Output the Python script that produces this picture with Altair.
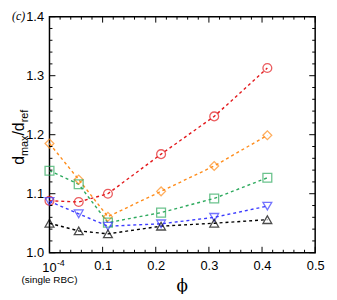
import altair as alt
import pandas as pd

phi = [0.0, 0.055, 0.11, 0.21, 0.31, 0.41]
series_names = ["s1", "s2", "s3", "s4", "s5"]
red_vals = [1.088, 1.086, 1.100, 1.167, 1.231, 1.313]
orange_vals = [1.185, 1.124, 1.061, 1.104, 1.147, 1.199]
green_vals = [1.139, 1.116, 1.051, 1.068, 1.092, 1.127]
blue_vals = [1.087, 1.066, 1.045, 1.049, 1.060, 1.079]
black_vals = [1.050, 1.037, 1.032, 1.045, 1.050, 1.056]
colors = ["#e3191c", "#ff8c1a", "#2eaa5e", "#3a3aff", "#000000"]
shapes = ["circle", "diamond", "square", "triangle-down", "triangle-up"]

x_major = [0.0, 0.1, 0.2, 0.3, 0.4, 0.5]
x_minor = [0.02, 0.04, 0.06, 0.08, 0.12, 0.14, 0.16, 0.18, 0.22, 0.24, 0.26, 0.28,
           0.32, 0.34, 0.36, 0.38, 0.42, 0.44, 0.46, 0.48]
y_major = [1.0, 1.1, 1.2, 1.3, 1.4]
y_minor = [1.02, 1.04, 1.06, 1.08, 1.12, 1.14, 1.16, 1.18, 1.22, 1.24, 1.26, 1.28,
           1.32, 1.34, 1.36, 1.38]

W, H = 269, 239

rows = []
for name, vals in zip(series_names, [red_vals, orange_vals, green_vals, blue_vals, black_vals]):
    for p, v in zip(phi, vals):
        rows.append({"series": name, "phi": p, "d": v})
df = pd.DataFrame(rows)

xs = alt.Scale(domain=[0, 0.5], nice=False, zero=False)
ys = alt.Scale(domain=[1.0, 1.4], nice=False, zero=False)
cs = alt.Scale(domain=series_names, range=colors)
ss = alt.Scale(domain=series_names, range=shapes)

base = alt.Chart(df)
lines = base.mark_line(strokeDash=[3, 3], strokeWidth=1.4).encode(
    x=alt.X("phi:Q", scale=xs,
            axis=alt.Axis(values=x_major, format=".1f",
                          labelExpr="datum.value < 0.01 ? '' : datum.label",
                          title=None, labelFontSize=13, labelPadding=7,
                          labelFont="Liberation Sans", labelColor="black",
                          labelFlush=False)),
    y=alt.Y("d:Q", scale=ys,
            axis=alt.Axis(values=y_major, format=".1f", title=None,
                          labelFontSize=13, labelPadding=6,
                          labelFont="Liberation Sans", labelColor="black",
                          labelFlush=False)),
    color=alt.Color("series:N", scale=cs, legend=None),
    detail="series:N",
)
points = base.mark_point(filled=False, size=80, strokeWidth=1.3).encode(
    x=alt.X("phi:Q", scale=xs),
    y=alt.Y("d:Q", scale=ys),
    color=alt.Color("series:N", scale=cs, legend=None),
    shape=alt.Shape("series:N", scale=ss, legend=None),
)

xmaj = pd.DataFrame({"t": x_major})
xmin = pd.DataFrame({"t": x_minor})
ymaj = pd.DataFrame({"t": y_major})
ymin = pd.DataFrame({"t": y_minor})

def xticks(d, length):
    b = alt.Chart(d).mark_rule(color="black", strokeWidth=1)
    return (b.encode(x=alt.X("t:Q", scale=xs), y=alt.value(H), y2=alt.value(H - length)) +
            b.encode(x=alt.X("t:Q", scale=xs), y=alt.value(0), y2=alt.value(length)))

def yticks(d, length):
    b = alt.Chart(d).mark_rule(color="black", strokeWidth=1)
    return (b.encode(y=alt.Y("t:Q", scale=ys), x=alt.value(0), x2=alt.value(length)) +
            b.encode(y=alt.Y("t:Q", scale=ys), x=alt.value(W), x2=alt.value(W - length)))

ticks = xticks(xmaj, 6) + xticks(xmin, 3) + yticks(ymaj, 6) + yticks(ymin, 3)

def txt(text, x, y, size, font="Liberation Sans", align="center", angle=0,
        style="normal", baseline="alphabetic"):
    kw = dict(text=text, fontSize=size, font=font, align=align, baseline=baseline,
              color="black", fontStyle=style)
    if angle:
        kw["angle"] = angle
    return alt.Chart(pd.DataFrame({"a": [0]})).mark_text(**kw).encode(
        x=alt.value(x), y=alt.value(y))

yx = -26
yb = 150
fb, fs = 16, 11
wd, wmax, wsl, wref = 0.556 * fb, 1.889 * fs, 0.278 * fb, 1.167 * fs
labels = (
    txt("10", 0, 259, 13) +
    txt("-4", 7.5, 252, 9, align="left") +
    txt("(single RBC)", 0, 270, 10) +
    txt("ϕ", W / 2, 278, 17, font="DejaVu Serif") +
    txt("(c)", -38, 3, 12, font="Liberation Serif", align="left", style="italic") +
    txt("d", yx, yb, fb, align="left", angle=270) +
    txt("max", yx + 4, yb - wd, fs, align="left", angle=270) +
    txt("/d", yx, yb - wd - wmax, fb, align="left", angle=270) +
    txt("ref", yx + 4, yb - 2 * wd - wmax - wsl, fs, align="left", angle=270)
)

chart = alt.layer(lines, points, ticks, labels).properties(
    width=W, height=H,
    autosize=alt.AutoSizeParams(type="none"),
    padding={"left": 42, "top": 7, "right": 14, "bottom": 40},
).configure_view(stroke="black", strokeWidth=1.5).configure_axis(
    domain=False, ticks=False, grid=False
)

chart.save("out.html", embed_options={"renderer": "svg", "actions": False})
